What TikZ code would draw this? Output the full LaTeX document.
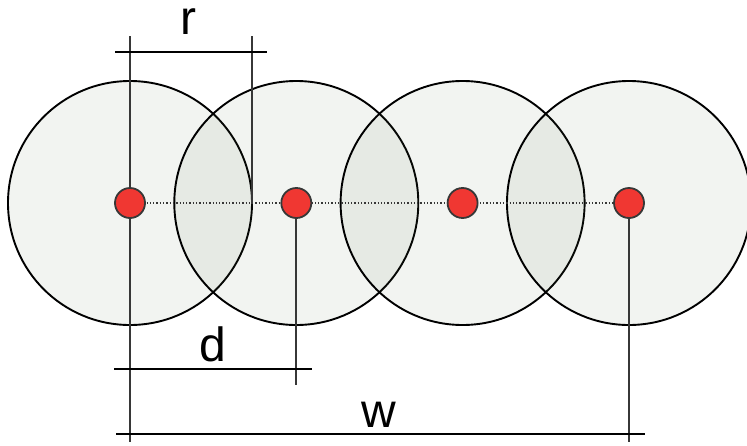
\documentclass[tikz,border=0pt]{standalone}
\usepackage{fontspec}
\setmainfont{Liberation Sans}
\usetikzlibrary{positioning}
\definecolor{discfill}{RGB}{86,112,73}
\definecolor{dotred}{RGB}{240,55,50}
\definecolor{linegray}{RGB}{55,55,55}

\begin{document}
\begin{tikzpicture}[x=1pt,y=-1pt,
  disc/.style={draw=black,line width=1.9pt,circle,inner sep=0pt,minimum size=244pt,fill=discfill,fill opacity=0.077},
  dot/.style={draw=linegray,line width=1.8pt,circle,inner sep=0pt,minimum size=30pt,fill=dotred},
  ext/.style={draw=linegray,line width=1.9pt},
  dim/.style={draw=black,line width=2.1pt},
  lbl/.style={font=\fontsize{48}{48}\selectfont,anchor=base,inner sep=0pt}]
\useasboundingbox (0,0) rectangle (747,445);
% the four discs
\foreach \i/\x in {1/130,2/296.3,3/462.6,4/629}
  \node[disc] (k\i) at (\x,203) {};
\coordinate (c1) at (130,203); \coordinate (c4) at (629,203);
\draw[linegray,line width=1.3pt,dotted] (c1) -- (c4);
% extension lines
\coordinate (rtopa) at (130,36); \coordinate (wbota) at (130,442);
\coordinate (rtopb) at (252,36); \coordinate (rbotb) at (252,204);
\coordinate (dtop) at (296.3,203); \coordinate (dbot) at (296.3,385);
\coordinate (wtop) at (629,203); \coordinate (wbotb) at (629,442);
\draw[ext] (rtopa) -- (wbota); \draw[ext] (rtopb) -- (rbotb);
\draw[ext] (dtop) -- (dbot); \draw[ext] (wtop) -- (wbotb);
% dimension lines
\coordinate (ra) at (115,52); \coordinate (rb) at (267,52);
\coordinate (da) at (114,369); \coordinate (db) at (312,369);
\coordinate (wa) at (116,434); \coordinate (wb) at (645,434);
\draw[dim] (ra) -- (rb); \draw[dim] (da) -- (db); \draw[dim] (wa) -- (wb);
% the centre points
\foreach \i/\x in {1/130,2/296.3,3/462.6,4/629}
  \node[dot] (p\i) at (\x,203) {};
\node[lbl] (rlbl) at (188,34) {r};
\node[lbl] (dlbl) at (213,361) {d};
\node[lbl] (wlbl) at (379,427) {w};
\end{tikzpicture}
\end{document}
